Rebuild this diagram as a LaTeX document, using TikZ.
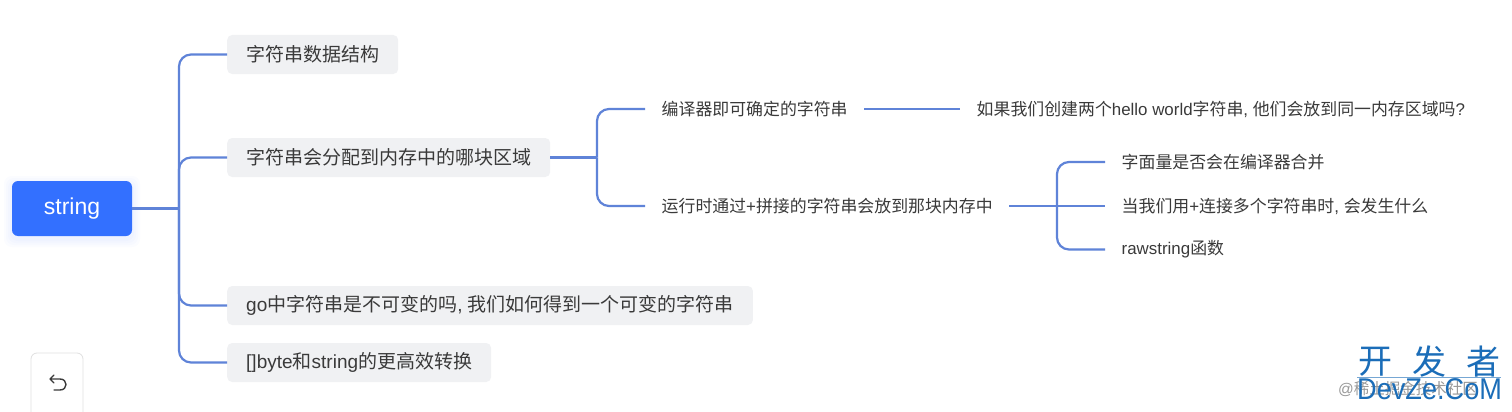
\documentclass[tikz,border=0pt]{standalone}
\usepackage{fontspec}
\setmainfont{Noto Sans CJK SC}
\newfontfamily\latf{Liberation Sans}
\newcommand{\lat}[1]{{\latf #1}}
\definecolor{linkc}{HTML}{5F83D8}
\definecolor{rootc}{HTML}{3370FF}
\definecolor{boxc}{HTML}{F0F1F3}
\definecolor{txtc}{HTML}{3A3A3A}
\definecolor{wmc}{HTML}{1B6DB8}
\tikzset{
  x=1pt,y=-1pt,
  link/.style={draw=linkc,line width=2.2pt,rounded corners=12pt},
  rootbox/.style={fill=rootc,rounded corners=6pt,text=white,font=\latf\fontsize{23}{26}\selectfont,minimum width=120pt,minimum height=55pt,inner sep=0pt},
  subbox/.style={fill=boxc,rounded corners=5pt,text=txtc,font=\fontsize{19}{22}\selectfont,minimum height=39pt,inner xsep=19pt,inner ysep=0pt,anchor=west},
  leaf/.style={text=txtc,font=\fontsize{16.9}{20}\selectfont,inner xsep=16.5pt,inner ysep=2pt,anchor=west},
  wmark/.style={text=wmc,inner sep=0pt},
}
\begin{document}
\begin{tikzpicture}
\useasboundingbox (0,0) rectangle (1512,412);
\fill[white] (0,0) rectangle (1512,412);
% soft shadow of the root
\foreach \g in {8,6,4,2}{
  \fill[rootc,opacity=0.018,rounded corners=8pt] (12-\g,181-\g+3) rectangle (132+\g,236+\g+3);
}
\node[rootbox] (root) at (72,208.5) {string};
\node[subbox] (a) at (227,54.5) {字符串数据结构};
\node[subbox] (b) at (227,157.5) {字符串会分配到内存中的哪块区域};
\node[subbox] (c) at (227,305.5) {\lat{go}中字符串是不可变的吗\lat{, }我们如何得到一个可变的字符串};
\node[subbox] (d) at (227,362.5) {\lat{[]byte}和\lat{string}的更高效转换};
\node[leaf] (e) at (645,109) {编译器即可确定的字符串};
\node[leaf] (f) at (645,206) {运行时通过\lat{+}拼接的字符串会放到那块内存中};
\node[leaf] (g) at (960,109) {如果我们创建两个\lat{hello world}字符串\lat{, }他们会放到同一内存区域吗\lat{?}};
\node[leaf] (h) at (1105,162) {字面量是否会在编译器合并};
\node[leaf] (i) at (1105,206) {当我们用\lat{+}连接多个字符串时\lat{, }会发生什么};
\node[leaf] (j) at (1105,249.5) {\lat{rawstring}函数};
\coordinate (t1) at (179,208.5);
\coordinate (t2) at (597,157.5);
\coordinate (t3) at (1057,206);
\draw[link] (root.east) -- (t1);
\draw[link] (t1) |- (a.west);
\draw[link] (t1) |- (b.west);
\draw[link] (t1) |- (c.west);
\draw[link] (t1) |- (d.west);
\draw[link] (b.east) -- (t2);
\draw[link] (t2) |- (e.west);
\draw[link] (t2) |- (f.west);
\draw[link] (e.east) -- (g.west);
\draw[link] (f.east) -- (t3);
\draw[link] (t3) |- (h.west);
\draw[link] (t3) -- (i.west);
\draw[link] (t3) |- (j.west);
% undo button
\draw[draw=black!12,fill=white,rounded corners=6pt,line width=0.8pt] (31,430) -- (31,353) -- (83,353) -- (83,430);
\draw[draw=txtc,line width=1.4pt,line cap=round,line join=round]
  (54,375) -- (50,379) -- (54,383)
  (50,379) -- (60,379) .. controls (68,379) and (68,390) .. (60,390) -- (54,390);
% watermark
\node[text=black!40,font=\fontsize{15.5}{18}\selectfont,anchor=west,inner sep=0pt] (w0) at (1338,389) {\lat{@}稀土掘金技术社区};
\node[wmark,font=\fontsize{34}{36}\selectfont] (w1) at (1375,362) {开};
\node[wmark,font=\fontsize{34}{36}\selectfont] (w2) at (1429.5,362) {发};
\node[wmark,font=\fontsize{34}{36}\selectfont] (w3) at (1483,362) {者};
\coordinate (w4) at (1357,377);
\coordinate (w5) at (1501,377);
\draw[draw=wmc!60,line width=0.6pt] (w4) -- (w5);
\node[wmark,font=\latf\fontsize{30}{34}\selectfont,anchor=west] (w6) at (1357,389.5) {\scalebox{0.905}[1]{DevZe.CoM}};
\end{tikzpicture}
\end{document}
